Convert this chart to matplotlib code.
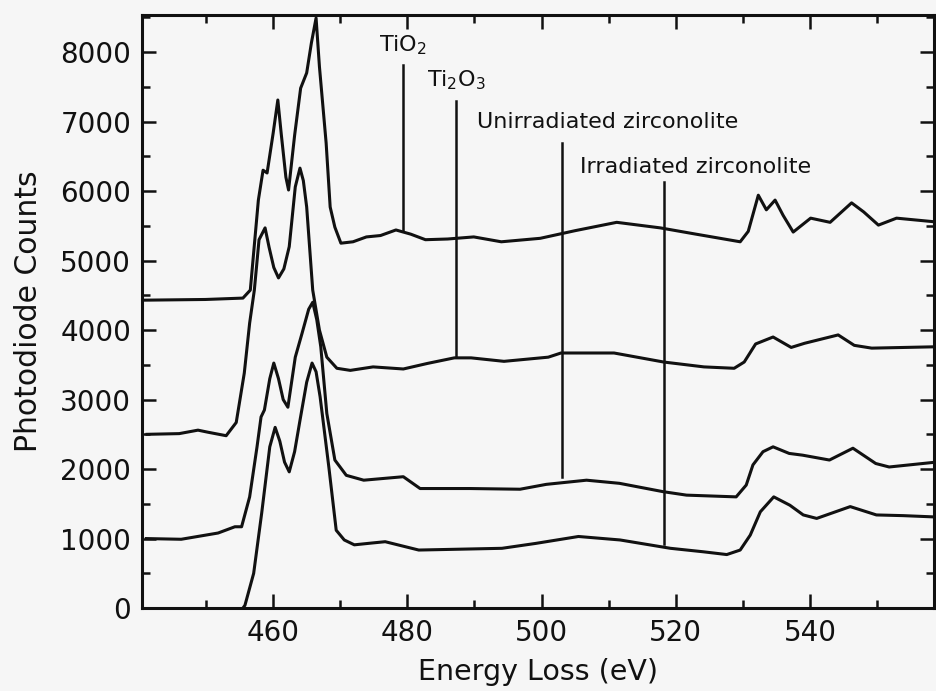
import matplotlib
matplotlib.use("Agg")
import matplotlib.pyplot as plt
from matplotlib.ticker import MultipleLocator

plt.rcParams['font.family'] = ['DejaVu Sans']
plt.rcParams['mathtext.default'] = 'regular'

# spectra (eV, counts)
tio2_ev = [440.7, 449.9, 455.5, 456.6, 457.8, 458.5, 459.1, 460.0, 460.7, 461.2,
           461.9, 462.3, 463.2, 464.1, 465.0, 465.7, 466.4, 466.9, 467.9, 468.5,
           469.2, 470.1, 471.9, 473.9, 476.0, 478.3, 480.5, 482.7, 486.0, 489.9,
           494.0, 499.8, 505.0, 511.2, 517.7, 523.0, 529.6, 530.8, 532.3, 533.5,
           534.8, 536.0, 537.5, 540.1, 543.0, 546.2, 548.0, 550.2, 552.9, 559.4]
tio2_counts = [4430, 4440, 4460, 4575, 5870, 6300, 6260, 6830, 7310, 6830,
               6200, 6015, 6800, 7480, 7700, 8130, 8490, 7790, 6690, 5770,
               5480, 5250, 5270, 5340, 5360, 5440, 5380, 5300, 5310, 5340,
               5270, 5320, 5430, 5550, 5470, 5380, 5270, 5420, 5940, 5730,
               5870, 5650, 5410, 5610, 5550, 5830, 5700, 5510, 5610, 5550]

ti2o3_ev = [441.2, 446.0, 448.8, 450.3, 453.0, 454.5, 455.7, 456.5, 457.2, 457.9,
            458.8, 459.4, 460.1, 460.8, 461.6, 462.4, 463.3, 464.0, 464.5, 465.0,
            465.9, 466.9, 468.0, 469.5, 471.5, 474.9, 479.4, 483.0, 487.0, 489.5,
            494.4, 501.0, 502.9, 510.8, 518.2, 524.2, 528.7, 530.2, 531.9, 534.5,
            537.2, 539.2, 544.2, 546.6, 549.2, 559.0]
ti2o3_counts = [2500, 2510, 2560, 2530, 2480, 2670, 3380, 4100, 4575, 5300,
                5470, 5190, 4900, 4750, 4880, 5200, 6060, 6330, 6150, 5770,
                4575, 4000, 3610, 3450, 3420, 3470, 3440, 3520, 3600, 3600,
                3550, 3610, 3670, 3670, 3540, 3470, 3450, 3540, 3800, 3900,
                3750, 3810, 3930, 3780, 3740, 3760]

unirr_ev = [441.1, 446.3, 451.8, 454.3, 455.3, 456.5, 457.6, 458.2, 458.7, 459.5,
            460.1, 460.8, 461.5, 462.2, 463.3, 464.3, 465.3, 465.9, 466.5, 467.1,
            468.0, 469.2, 470.9, 473.5, 479.4, 481.9, 489.3, 496.8, 500.7, 506.7,
            511.6, 518.1, 521.6, 529.0, 530.5, 531.5, 533.0, 534.5, 536.9, 538.9,
            542.9, 546.4, 549.8, 551.8, 558.8]
unirr_counts = [1000, 990, 1080, 1170, 1170, 1600, 2320, 2750, 2850, 3300,
                3525, 3300, 3000, 2890, 3610, 3950, 4300, 4400, 4150, 3760,
                2800, 2130, 1910, 1840, 1890, 1720, 1720, 1710, 1780, 1840,
                1795, 1675, 1625, 1600, 1770, 2060, 2250, 2320, 2225, 2200,
                2130, 2300, 2080, 2030, 2100]

irr_ev = [455.5, 455.8, 457.1, 458.3, 459.5, 460.3, 461.0, 461.7, 462.4, 463.2,
          464.0, 465.0, 465.8, 466.4, 467.0, 468.3, 469.4, 470.6, 472.1, 474.6,
          476.7, 481.7, 489.2, 494.1, 499.1, 505.5, 511.7, 519.2, 524.1, 527.6,
          529.6, 531.1, 532.6, 534.6, 537.0, 539.0, 541.0, 546.0, 549.9, 553.9,
          558.9]
irr_counts = [0, 40, 500, 1370, 2320, 2600, 2400, 2100, 1960, 2250,
              2700, 3250, 3525, 3400, 3040, 2030, 1120, 980, 910, 935,
              955, 835, 850, 860, 930, 1030, 980, 860, 810, 770,
              835, 1050, 1385, 1600, 1480, 1340, 1290, 1460, 1340, 1330,
              1310]

# marker lines: (label, line energy, line top, line bottom, text x, text y)
labels = ["TiO$_2$", "Ti$_2$O$_3$", "Unirradiated zirconolite", "Irradiated zirconolite"]
line_ev = [479.3, 487.2, 503.0, 518.2]
line_top = [7810, 7290, 6690, 6130]
line_bottom = [5440, 3610, 1890, 915]
text_ev = [475.8, 482.9, 490.4, 505.7]
text_y = [8100, 7590, 6990, 6350]

bg = '#f6f6f6'
ink = '#111111'
fig = plt.figure(figsize=(9.36, 6.91), dpi=100, facecolor=bg)
ax = fig.add_axes([0.152, 0.120, 0.846, 0.858], facecolor=bg)

for xs, ys in [(tio2_ev, tio2_counts), (ti2o3_ev, ti2o3_counts),
               (unirr_ev, unirr_counts), (irr_ev, irr_counts)]:
    ax.plot(xs, ys, color=ink, lw=2.2, solid_joinstyle='round')

for lab, lx, top, bot, tx, ty in zip(labels, line_ev, line_top, line_bottom, text_ev, text_y):
    ax.plot([lx, lx], [bot, top], color=ink, lw=1.8)
    ax.text(tx, ty, lab, fontsize=16, ha='left', va='center', color=ink)

ax.set_xlim(440.5, 558.5)
ax.set_ylim(0, 8530)
ax.xaxis.set_major_locator(MultipleLocator(20))
ax.xaxis.set_minor_locator(MultipleLocator(10))
ax.yaxis.set_major_locator(MultipleLocator(1000))
ax.yaxis.set_minor_locator(MultipleLocator(500))
ax.tick_params(which='both', direction='in', top=True, right=True, width=1.8,
               color=ink, labelsize=20, labelcolor=ink)
ax.tick_params(which='major', length=10, pad=8)
ax.tick_params(which='minor', length=6)
for s in ax.spines.values():
    s.set_linewidth(2.2)
    s.set_color(ink)

ax.set_xlabel("Energy Loss (eV)", fontsize=20.5, color=ink, labelpad=8)
ax.set_ylabel("Photodiode Counts", fontsize=21.5, color=ink, labelpad=12)

fig.savefig("out.png", dpi=100, facecolor=bg)
